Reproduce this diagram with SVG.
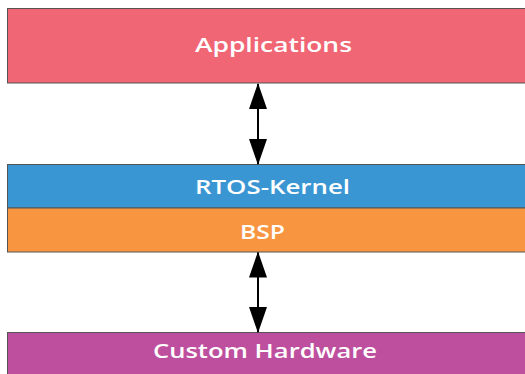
<svg xmlns="http://www.w3.org/2000/svg" width="525" height="374" viewBox="0 0 525 374">
<style>
.box{stroke:#555;stroke-width:1}
.lbl{font-family:"Open Sans","DejaVu Sans",sans-serif;font-weight:600;font-size:20px;fill:#fff;text-anchor:middle}
.conn{stroke:#000;stroke-width:2;fill:none}
</style>
<defs>
<marker id="ah" viewBox="0 0 26 18" refX="25" refY="9" markerWidth="26" markerHeight="18" markerUnits="userSpaceOnUse" orient="auto-start-reverse">
<path d="M0,0 L26,9 L0,18 Z" fill="#000"/>
</marker>
</defs>
<rect width="525" height="374" fill="#fff"/>
<g id="applications">
<rect class="box" x="7.5" y="8.5" width="530" height="74.5" fill="#F06675"/>
<text class="lbl" x="273.5" y="52" textLength="157" lengthAdjust="spacingAndGlyphs">Applications</text>
</g>
<g id="rtos-kernel">
<rect class="box" x="7.5" y="164.5" width="530" height="43.5" fill="#3A96D3"/>
<text class="lbl" x="272.5" y="194" textLength="155" lengthAdjust="spacingAndGlyphs">RTOS-Kernel</text>
</g>
<g id="bsp">
<rect class="box" x="7.5" y="208" width="530" height="44" fill="#F79540"/>
<text class="lbl" x="262.5" y="239" textLength="45" lengthAdjust="spacingAndGlyphs">BSP</text>
</g>
<g id="custom-hardware">
<rect class="box" x="7.5" y="332.5" width="530" height="50" fill="#BE4F9E"/>
<text class="lbl" x="265" y="358" textLength="224" lengthAdjust="spacingAndGlyphs">Custom Hardware</text>
</g>
<g id="connectors">
<line class="conn" x1="258" y1="84" x2="258" y2="164" marker-start="url(#ah)" marker-end="url(#ah)"/>
<line class="conn" x1="258" y1="252.5" x2="258" y2="332" marker-start="url(#ah)" marker-end="url(#ah)"/>
</g>
</svg>
